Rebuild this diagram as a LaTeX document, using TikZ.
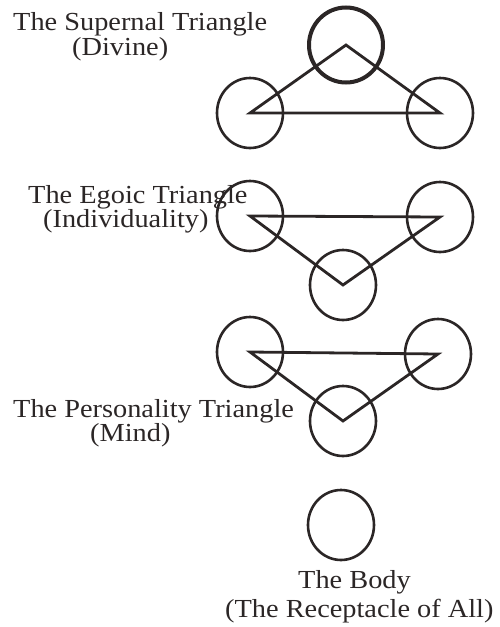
\documentclass[tikz,border=0pt]{standalone}
\usepackage{fontspec}
\setmainfont{Liberation Serif}[FakeStretch=1.09]
\usetikzlibrary{shapes.geometric}
\definecolor{ink}{HTML}{2B2626}
\tikzset{
  ring/.style={draw=ink, line width=2.6pt, ellipse, minimum width=66pt, minimum height=70pt, inner sep=0pt},
  bigring/.style={draw=ink, line width=4pt, ellipse, minimum width=74pt, minimum height=75pt, inner sep=0pt},
  tri/.style={draw=ink, line width=2.8pt, line join=miter},
  label/.style={anchor=base west, inner sep=0pt, text=ink, font=\fontsize{26}{30}\selectfont}
}
\begin{document}
\begin{tikzpicture}[x=1pt,y=-1pt]
\useasboundingbox (0,0) rectangle (500,627);
% Supernal
\node[ring] (s1) at (250,113) {};
\node[ring] (s2) at (440,113) {};
\node[bigring] (s0) at (346,45) {};
\draw[tri] (s0.center) -- (s1.center) -- (s2.center) -- cycle;
% Egoic
\node[ring] (e1) at (250,216) {};
\node[ring] (e2) at (440,217) {};
\node[ring] (e0) at (343,285) {};
\draw[tri] (e1.center) -- (e2.center) -- (e0.center) -- cycle;
% Personality
\node[ring] (p1) at (250,352) {};
\node[ring] (p2) at (438,354) {};
\node[ring] (p0) at (343,421) {};
\draw[tri] (p1.center) -- (p2.center) -- (p0.center) -- cycle;
% Body
\node[ring] (b0) at (341,525) {};
% Labels
\node[label] (t1) at (13,30) {The Supernal Triangle};
\node[label] (t1b) at (72,55) {(Divine)};
\node[label] (t2) at (28,203) {The Egoic Triangle};
\node[label] (t2b) at (43,227) {(Individuality)};
\node[label] (t3) at (13,417) {The Personality Triangle};
\node[label] (t3b) at (90,441) {(Mind)};
\node[label] (t4) at (298,588) {The Body};
\node[label] (t4b) at (225,617) {(The Receptacle of All)};
\end{tikzpicture}
\end{document}
